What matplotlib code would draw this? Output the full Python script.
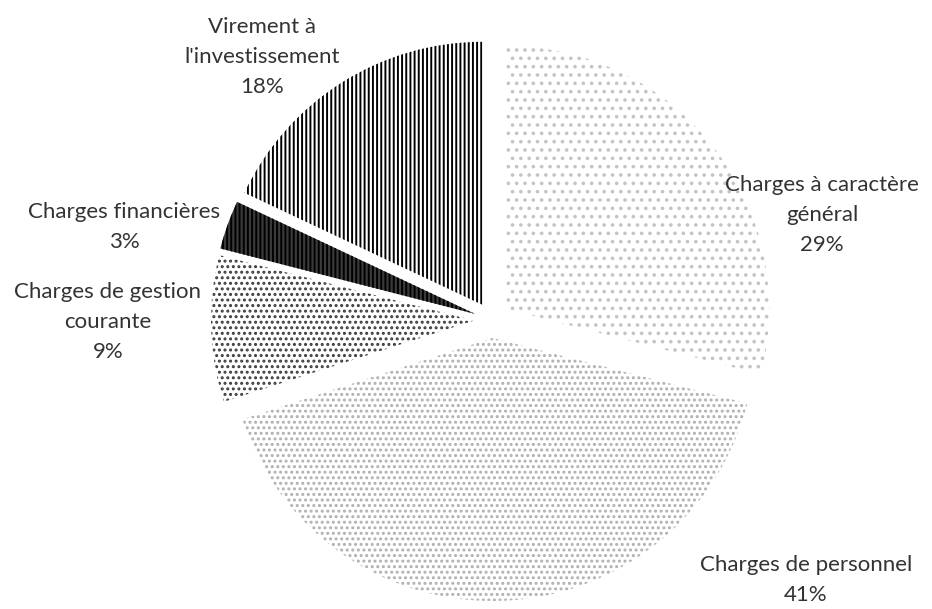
#!/usr/bin/env python3
import matplotlib
matplotlib.use('Agg')
import matplotlib.pyplot as plt

# data
categories = [
    'Charges à caractère\ngénéral',
    'Charges de personnel',
    'Charges de gestion\ncourante',
    'Charges financières',
    "Virement à\nl'investissement",
]
shares = [29, 41, 9, 3, 18]

# styles (one per slice)
face_colors = ['white', 'white', 'white', '#3a3a3a', 'white']
hatch_colors = ['#c4c4c4', '#b0b0b0', '#3c3c3c', 'black', 'black']
hatches = ['..', '...', '...', '||||', '||||']

# label anchor positions in image pixels (x, y from top)
label_pos = [(822, 215), (806, 580), (108, 322), (124, 227), (262, 57)]

plt.rcParams['font.family'] = ['Lato', 'DejaVu Sans']
plt.rcParams['hatch.linewidth'] = 1.4

W, H = 932, 609
fig = plt.figure(figsize=(W / 100, H / 100), dpi=100)
ax = fig.add_axes([0, 0, 1, 1])

# pie explode is in data units here (pixels)
wedges, _ = ax.pie(
    shares,
    startangle=90,
    counterclock=False,
    radius=263,
    center=(492, H - 320),
    explode=[18] * len(shares),
    wedgeprops=dict(linewidth=0),
)

for w, fc, hc, h in zip(wedges, face_colors, hatch_colors, hatches):
    w.set_facecolor(fc)
    w.set_edgecolor(hc)
    w.set_hatch(h)
    w.set_linewidth(0)

for name, val, (px, py) in zip(categories, shares, label_pos):
    ax.text(
        px, H - py,
        f'{name}\n{val}%',
        ha='center',
        va='center',
        fontsize=16,
        color='#333333',
        linespacing=1.6,
    )

ax.set_xlim(0, W)
ax.set_ylim(0, H)
ax.set_aspect('equal')
ax.axis('off')

fig.savefig('out.png', dpi=100)
